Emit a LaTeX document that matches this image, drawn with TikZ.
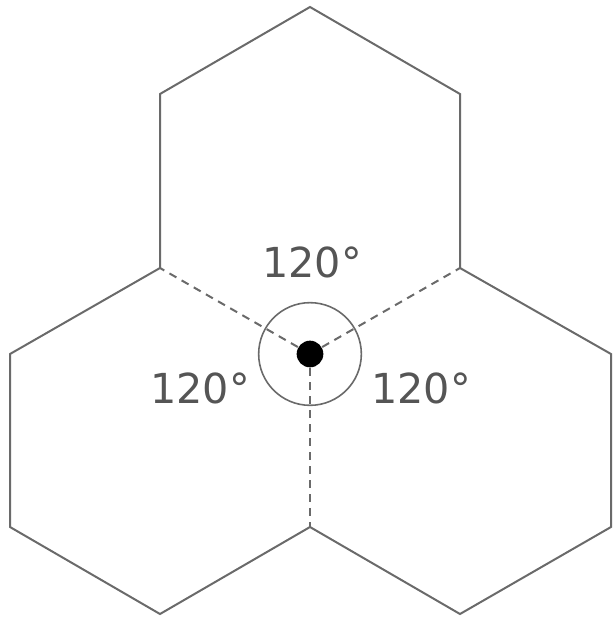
\documentclass[tikz,border=0pt]{standalone}
\usepackage{fontspec}
\setmainfont{DejaVu Sans}
\definecolor{edge}{HTML}{6A6A6A}
\definecolor{txt}{HTML}{555555}
\begin{document}
\begin{tikzpicture}[x=0.75pt,y=-0.75pt,
  hexline/.style={draw=edge,line width=1.5pt,line join=miter},
  dashline/.style={draw=edge,line width=1.5pt,dash pattern=on 6pt off 4.5pt},
  angle/.style={text=txt,font=\fontsize{31}{36}\selectfont,inner sep=0pt}]
\useasboundingbox (0,0) rectangle (613,620);
% vertices
\coordinate (C) at (310,354);
\coordinate (T) at (310,7);
\coordinate (TR) at (460,94);
\coordinate (TL) at (160,94);
\coordinate (MR) at (460,268);
\coordinate (ML) at (160,268);
\coordinate (RR) at (611,354);
\coordinate (LL) at (10,354);
\coordinate (RB) at (611,527);
\coordinate (LB) at (10,527);
\coordinate (BM) at (310,527);
\coordinate (BR) at (460,614);
\coordinate (BL) at (160,614);
% solid outline
\draw[hexline] (ML) -- (TL) -- (T) -- (TR) -- (MR);
\draw[hexline] (ML) -- (LL) -- (LB) -- (BL) -- (BM) -- (BR) -- (RB) -- (RR) -- (MR);
% dashed shared edges
\draw[dashline] (C) -- (ML);
\draw[dashline] (C) -- (MR);
\draw[dashline] (C) -- (BM);
% circle and dot
\node[circle,draw=edge,line width=1.2pt,minimum size=77pt,inner sep=0pt] (ring) at (C) {};
\node[circle,fill=black,minimum size=20pt,inner sep=0pt] (dot) at (C) {};
% labels
\node[angle] (a1) at (312,262) {120°};
\node[angle] (a2) at (200,388) {120°};
\node[angle] (a3) at (421,388) {120°};
\end{tikzpicture}
\end{document}
